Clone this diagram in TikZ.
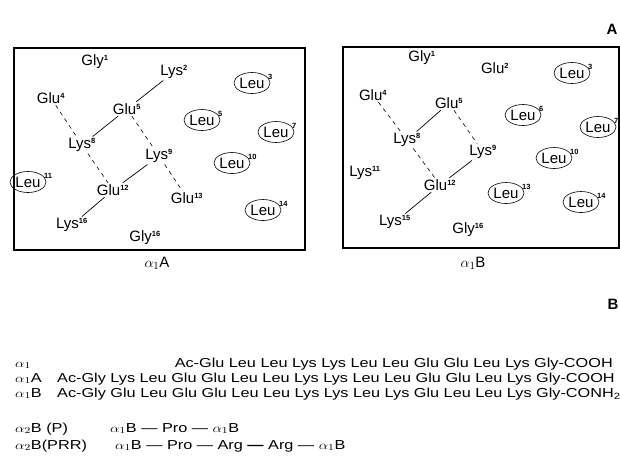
\documentclass[tikz,border=0pt]{standalone}
\usepackage{fontspec}
\setmainfont{Liberation Sans}
\usepackage{graphicx}
\usetikzlibrary{shapes.geometric}
\newcommand{\sn}[1]{\textsuperscript{\fontsize{7.5}{7.5}\selectfont\bfseries #1}}
\newcommand{\wideseq}[1]{\scalebox{1.25}[1]{#1}}

\begin{document}
\begin{tikzpicture}[x=1pt,y=-1pt,
  res/.style={font=\fontsize{15}{16}\selectfont,inner sep=1.5pt},
  sup/.style={font=\fontsize{7.5}{7.5}\selectfont\bfseries,inner sep=0pt,
              anchor=south west,xshift=3pt,yshift=-4pt},
  leu/.style={ellipse,draw,line width=0.6pt,inner sep=0pt,minimum width=36pt,
              minimum height=21pt,font=\fontsize{15}{16}\selectfont,
              label={[sup]north east:#1}},
  frame/.style={draw,line width=1.4pt},
  link/.style={line width=0.7pt},
  dlink/.style={line width=0.6pt,dash pattern=on 4pt off 4pt},
  seq/.style={anchor=base west,font=\fontsize{13}{14}\selectfont,inner sep=0pt}]
\useasboundingbox (0,0) rectangle (620,459);

% panel A
\draw[frame] (14,48) rectangle (305,250);
\node[res] (a1)  at (95,62)  {Gly\sn{1}};
\node[res] (a2)  at (174,72) {Lys\sn{2}};
\node[leu=3] (a3) at (252,83) {Leu};
\node[res] (a4)  at (51,98)  {Glu\sn{4}};
\node[res] (a5)  at (127,109) {Glu\sn{5}};
\node[leu=5] (a6) at (202,120) {Leu};
\node[leu=7] (a7) at (276,132) {Leu};
\node[res] (a8)  at (82,145) {Lys\sn{8}};
\node[res] (a9)  at (159,156) {Lys\sn{9}};
\node[leu=10] (a10) at (232,163) {Leu};
\node[leu=11] (a11) at (28,182) {Leu};
\node[res] (a12) at (113,190) {Glu\sn{12}};
\node[res] (a13) at (187,198) {Glu\sn{13}};
\node[leu=14] (a14) at (263,210) {Leu};
\node[res] (a15) at (72,225) {Lys\sn{16}};
\node[res] (a16) at (145,238) {Gly\sn{16}};
\draw[link] (a2) -- (a5);
\draw[link] (a5) -- (a8);
\draw[link] (a9) -- (a12);
\draw[link] (a12) -- (a15);
\draw[dlink] (a4) -- (a8);
\draw[dlink] (a5) -- (a9);
\draw[dlink] (a8) -- (a12);
\draw[dlink] (a9) -- (a13);
\node[res] (capA) at (157,263) {$\alpha_1$A};

% panel B
\draw[frame] (343,47) rectangle (619,248);
\node[res] (b1)  at (422,58) {Gly\sn{1}};
\node[res] (b2)  at (495,68) {Glu\sn{2}};
\node[leu=3] (b3) at (572,73) {Leu};
\node[res] (b4)  at (373,95) {Glu\sn{4}};
\node[res] (b5)  at (449,103) {Glu\sn{5}};
\node[leu=6] (b6) at (523,115) {Leu};
\node[leu=7] (b7) at (598,127) {Leu};
\node[res] (b8)  at (407,140) {Lys\sn{8}};
\node[res] (b9)  at (483,152) {Lys\sn{9}};
\node[leu=10] (b10) at (554,158) {Leu};
\node[res] (b11) at (365,173) {Lys\sn{11}};
\node[res] (b12) at (440,185) {Glu\sn{12}};
\node[leu=13] (b13) at (506,193) {Leu};
\node[leu=14] (b14) at (581,202) {Leu};
\node[res] (b15) at (395,222) {Lys\sn{15}};
\node[res] (b16) at (468,230) {Gly\sn{16}};
\draw[link] (b5) -- (b8);
\draw[link] (b9) -- (b12);
\draw[link] (b12) -- (b15);
\draw[dlink] (b4) -- (b8);
\draw[dlink] (b5) -- (b9);
\draw[dlink] (b8) -- (b12);
\node[res] (capB) at (473,263) {$\alpha_1$B};

\node[font=\fontsize{15}{15}\selectfont\bfseries] (tagA) at (612,29) {A};
\node[font=\fontsize{15}{15}\selectfont\bfseries] (tagB) at (613,304) {B};

% sequences
\node[seq] (n1) at (15,367) {\wideseq{$\alpha_1$}};
\node[seq,anchor=base east] (s1) at (613,367)
  {\wideseq{Ac-Glu Leu Leu Lys Lys Leu Leu Glu Glu Leu Lys Gly-COOH}};
\node[seq] (n2) at (15,382) {\wideseq{$\alpha_1$A}};
\node[seq] (s2) at (57,382)
  {\wideseq{Ac-Gly Lys Leu Glu Glu Leu Leu Lys Lys Leu Leu Glu Glu Leu Lys Gly-COOH}};
\node[seq] (n3) at (15,397) {\wideseq{$\alpha_1$B}};
\node[seq] (s3) at (57,397)
  {\wideseq{Ac-Gly Glu Leu Glu Glu Leu Leu Lys Lys Leu Lys Glu Leu Leu Lys Gly-CONH\textsubscript{2}}};
\node[seq] (n4) at (15,432) {\wideseq{$\alpha_2$B (P)}};
\node[seq] (s4) at (110,432) {\wideseq{$\alpha_1$B --- Pro --- $\alpha_1$B}};
\node[seq] (n5) at (15,449) {\wideseq{$\alpha_2$B(PRR)}};
\node[seq] (s5) at (115,449)
  {\wideseq{$\alpha_1$B --- Pro --- Arg \textbf{---} Arg --- $\alpha_1$B}};
\end{tikzpicture}
\end{document}
